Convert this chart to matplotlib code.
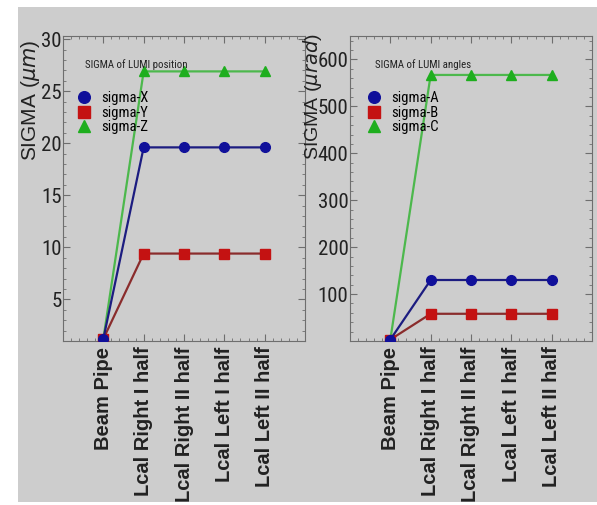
import matplotlib
matplotlib.use("Agg")
import matplotlib.pyplot as plt
from matplotlib.patches import Rectangle
from matplotlib.ticker import AutoMinorLocator

categories = ["Beam Pipe", "Lcal Right I half", "Lcal Right II half",
              "Lcal Left I half", "Lcal Left II half"]

pos_labels = ["sigma-X", "sigma-Y", "sigma-Z"]
sigma_x = [1.2, 19.6, 19.6, 19.6, 19.6]
sigma_y = [1.2, 9.4, 9.4, 9.4, 9.4]
sigma_z = [1.2, 26.9, 26.9, 26.9, 26.9]

ang_labels = ["sigma-A", "sigma-B", "sigma-C"]
sigma_a = [3, 130, 130, 130, 130]
sigma_b = [3, 58, 58, 58, 58]
sigma_c = [3, 567, 567, 567, 567]

plt.rcParams['font.family'] = ["Liberation Sans", "DejaVu Sans"]
narrow = ["Roboto Condensed", "Liberation Sans", "DejaVu Sans"]

bg = "#cdcdcd"
fig = plt.figure(figsize=(5.97, 5.05), dpi=100, facecolor="white")
fig.add_artist(Rectangle((18/597, 0.005), 1 - 18/597, 1 - 7/505 - 0.005,
                         transform=fig.transFigure, facecolor=bg,
                         edgecolor="none", zorder=-10))

styles = [
    dict(color="#1c1c80", marker="o", mfc="#10109a", mec="#10109a", z=5),
    dict(color="#8a2c2c", marker="s", mfc="#c41212", mec="#c41212", z=4),
    dict(color="#4cb84c", marker="^", mfc="#1eae1e", mec="#1eae1e", z=3),
]

def panel(rect, series, labels, ylim, ticks, ylabel, title, ylab_x, ylab_y,
          ylab_size, leg_x):
    ax = fig.add_axes(rect)
    ax.set_facecolor(bg)
    x = list(range(len(categories)))
    for vals, lab, st in zip(series, labels, styles):
        ax.plot(x, vals, color=st["color"], lw=1.6, marker=st["marker"],
                ms=7, mfc=st["mfc"], mec=st["mec"], label=lab, zorder=st["z"])
    ax.set_xlim(-1, 5)
    ax.set_ylim(*ylim)
    ax.set_xticks(x)
    ax.set_xticklabels(categories, rotation=90, fontsize=14.5,
                       fontweight="bold")
    ax.set_yticks(ticks)
    ax.set_yticklabels([str(t) for t in ticks], family=narrow, fontsize=15)
    ax.yaxis.set_minor_locator(AutoMinorLocator(5))
    ax.xaxis.set_minor_locator(AutoMinorLocator(5))
    ax.tick_params(which="both", direction="in", top=True, right=True,
                   colors="#6e6e6e", labelcolor="#222222")
    ax.tick_params(which="major", length=5)
    ax.tick_params(which="minor", length=2.5)
    ax.tick_params(axis="y", pad=1)
    ax.tick_params(axis="x", pad=4)
    for s in ax.spines.values():
        s.set_color("#6e6e6e")
    ax.set_ylabel(ylabel, fontsize=ylab_size, color="#222222")
    ax.yaxis.set_label_coords(ylab_x, ylab_y)
    ax.text(leg_x, 0.905, title, transform=ax.transAxes, fontsize=7.8,
            ha="left", va="center", color="#222222", family=narrow)
    leg = ax.legend(loc="upper left", bbox_to_anchor=(leg_x - 0.035, 0.82),
                    frameon=False, borderpad=0,
                    prop=dict(family=narrow, size=10.5),
                    handlelength=1.0, handletextpad=0.7, labelspacing=0.05,
                    borderaxespad=0, markerscale=1.2)
    for h in leg.legend_handles:
        h.set_linestyle("none")
    return ax

ax1 = panel([63/597, 1 - 341/505, 242/597, 305/505],
            [sigma_x, sigma_y, sigma_z], pos_labels, (1, 30.3),
            [5, 10, 15, 20, 25, 30],
            r"SIGMA ($\mu m$)", "SIGMA of LUMI position", -0.087, 0.79, 15, 0.091)
ax2 = panel([350/597, 1 - 341/505, 242/597, 305/505],
            [sigma_a, sigma_b, sigma_c], ang_labels, (0, 650),
            [100, 200, 300, 400, 500, 600],
            r"SIGMA ($\mu rad$)", "SIGMA of LUMI angles", -0.108, 0.80, 14, 0.103)

fig.savefig("out.png", dpi=100, facecolor=fig.get_facecolor())
